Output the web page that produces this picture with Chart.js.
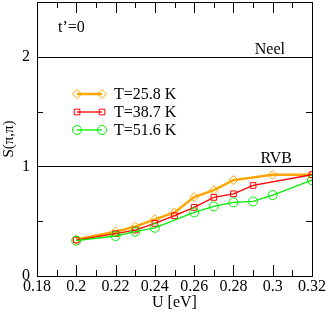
<!DOCTYPE html>
<html>
<head>
<meta charset="utf-8">
<script src="https://cdn.jsdelivr.net/npm/chart.js@4.4.1/dist/chart.umd.min.js"></script>
<style>
  html, body { margin: 0; padding: 0; background: #fff; }
  #wrap { width: 327px; height: 316px; }
</style>
</head>
<body>
<div id="wrap"><canvas id="sChart" width="327" height="316"></canvas></div>
<script>
// values
const uLow = [0.2, 0.22, 0.23, 0.24, 0.25, 0.26, 0.27, 0.28, 0.3, 0.32];
const s258 = [0.334, 0.404, 0.45, 0.517, 0.58, 0.72, 0.784, 0.875, 0.924, 0.924];

const uMid = [0.2, 0.22, 0.23, 0.24, 0.25, 0.26, 0.27, 0.28, 0.29, 0.32];
const s387 = [0.328, 0.386, 0.419, 0.48, 0.55, 0.626, 0.717, 0.75, 0.826, 0.924];

const uHigh = [0.2, 0.22, 0.23, 0.24, 0.26, 0.27, 0.28, 0.29, 0.3, 0.32];
const s516 = [0.322, 0.365, 0.404, 0.44, 0.58, 0.635, 0.672, 0.68, 0.738, 0.875];

const labels = ['T=25.8 K', 'T=38.7 K', 'T=51.6 K'];
const xTicks = [0.18, 0.2, 0.22, 0.24, 0.26, 0.28, 0.3, 0.32];
const yTicks = [0, 1, 2];
const refLines = [{ y: 2, text: 'Neel' }, { y: 1, text: 'RVB' }];

const FONT = '"Liberation Serif", "Times New Roman", serif';

function pts(xs, ys) {
  return xs.map((x, i) => ({ x: x, y: ys[i] }));
}

// inward ticks, box, reference lines, text and the legend
const decor = {
  id: 'decor',
  afterDatasetsDraw(chart) {
    const { ctx, chartArea: a, scales } = chart;
    const xs = scales.x, ys = scales.y;
    ctx.save();
    ctx.strokeStyle = '#000';
    ctx.lineWidth = 1;

    // reference lines
    refLines.forEach(r => {
      const y = Math.round(ys.getPixelForValue(r.y)) + 0.5;
      ctx.beginPath();
      ctx.moveTo(a.left, y);
      ctx.lineTo(a.right, y);
      ctx.stroke();
    });

    // ticks
    ctx.beginPath();
    for (let i = 0; i <= 14; i++) {
      const v = 0.18 + i * 0.01;
      const x = Math.round(xs.getPixelForValue(v)) + 0.5;
      const len = i % 2 === 0 ? 11 : 6;
      ctx.moveTo(x, a.bottom); ctx.lineTo(x, a.bottom - len);
      ctx.moveTo(x, a.top); ctx.lineTo(x, a.top + len);
    }
    for (let i = 0; i <= 5; i++) {
      const v = i * 0.5;
      const y = Math.round(ys.getPixelForValue(v)) + 0.5;
      const len = i % 2 === 0 ? 11 : 6;
      ctx.moveTo(a.left, y); ctx.lineTo(a.left + len, y);
      ctx.moveTo(a.right, y); ctx.lineTo(a.right - len, y);
    }
    ctx.stroke();

    // frame
    ctx.strokeRect(Math.round(a.left) + 0.5, Math.round(a.top) + 0.5,
      Math.round(a.right - a.left), Math.round(a.bottom - a.top));

    // text
    ctx.fillStyle = '#000';
    ctx.font = '16px ' + FONT;
    ctx.textBaseline = 'alphabetic';
    ctx.textAlign = 'left';
    ctx.fillText('t\u2019=0', 58, 32);
    ctx.textAlign = 'right';
    refLines.forEach(r => {
      ctx.fillText(r.text, r.y === 2 ? 285 : 292, ys.getPixelForValue(r.y) - 3);
    });

    // legend
    ctx.textAlign = 'left';
    ctx.textBaseline = 'middle';
    chart.data.datasets.forEach((ds, i) => {
      const y = 94 + i * 18;
      ctx.strokeStyle = ds.borderColor;
      ctx.lineWidth = ds.borderWidth;
      ctx.beginPath();
      ctx.moveTo(77, y); ctx.lineTo(102, y);
      ctx.stroke();
      ctx.lineWidth = 1;
      ctx.fillStyle = 'rgba(0,0,0,0)';
      [77, 102].forEach(px => {
        Chart.helpers.drawPoint(ctx, {
          pointStyle: ds.pointStyle, radius: ds.pointRadius, borderWidth: 1
        }, px, y);
      });
      ctx.fillStyle = '#000';
      ctx.fillText(ds.label, 114, y + 1);
    });
    ctx.restore();
  }
};

new Chart(document.getElementById('sChart'), {
  type: 'line',
  data: {
    datasets: [
      {
        label: labels[0],
        data: pts(uLow, s258),
        borderColor: '#ffa500',
        backgroundColor: 'rgba(0,0,0,0)',
        borderWidth: 2.5,
        pointStyle: 'rectRot',
        pointRadius: 4.5,
        pointBorderWidth: 1,
        order: 3
      },
      {
        label: labels[1],
        data: pts(uMid, s387),
        borderColor: '#ff0000',
        backgroundColor: 'rgba(0,0,0,0)',
        borderWidth: 1.3,
        pointStyle: 'rect',
        pointRadius: 4,
        pointBorderWidth: 1,
        order: 2
      },
      {
        label: labels[2],
        data: pts(uHigh, s516),
        borderColor: '#00f000',
        backgroundColor: 'rgba(0,0,0,0)',
        borderWidth: 1.3,
        pointStyle: 'circle',
        pointRadius: 4.5,
        pointBorderWidth: 1,
        order: 1
      }
    ]
  },
  options: {
    responsive: false,
    animation: false,
    layout: { padding: { top: 2, right: 15, left: 0, bottom: 0 } },
    plugins: { legend: { display: false }, tooltip: { enabled: false } },
    scales: {
      x: {
        type: 'linear',
        min: 0.18,
        max: 0.32,
        afterBuildTicks: s => { s.ticks = xTicks.map(v => ({ value: v })); },
        afterFit: s => { s.height = 40; },
        grid: { display: false, drawTicks: false },
        border: { display: false },
        ticks: {
          color: '#000',
          font: { family: FONT, size: 16 },
          padding: 1,
          maxRotation: 0,
          autoSkip: false,
          callback: v => String(+v.toFixed(2))
        },
        title: {
          display: true,
          text: 'U [eV]',
          color: '#000',
          font: { family: FONT, size: 16 },
          padding: { top: 0, bottom: 4 }
        }
      },
      y: {
        min: 0,
        max: 2.5,
        afterBuildTicks: s => { s.ticks = yTicks.map(v => ({ value: v })); },
        afterFit: s => { s.width = 37; s.paddingTop = 0; s.paddingBottom = 0; },
        grid: { display: false, drawTicks: false },
        border: { display: false },
        ticks: {
          color: '#000',
          font: { family: FONT, size: 16 },
          padding: 7
        },
        title: {
          display: true,
          text: 'S(\u03c0,\u03c0)',
          color: '#000',
          font: { family: FONT, size: 15 },
          padding: { top: 0, bottom: 0 }
        }
      }
    }
  },
  plugins: [decor, {
    id: 'fixTop',
    afterLayout(chart) {
      // put the frame top where the reference has it
      const a = chart.chartArea;
      if (a.top > 2) {
        const ys = chart.scales.y;
        ys.top = 2;
        a.top = 2;
        ys.height = ys.bottom - ys.top;
        ys.configure();
      }
    }
  }]
});
</script>
</body>
</html>
